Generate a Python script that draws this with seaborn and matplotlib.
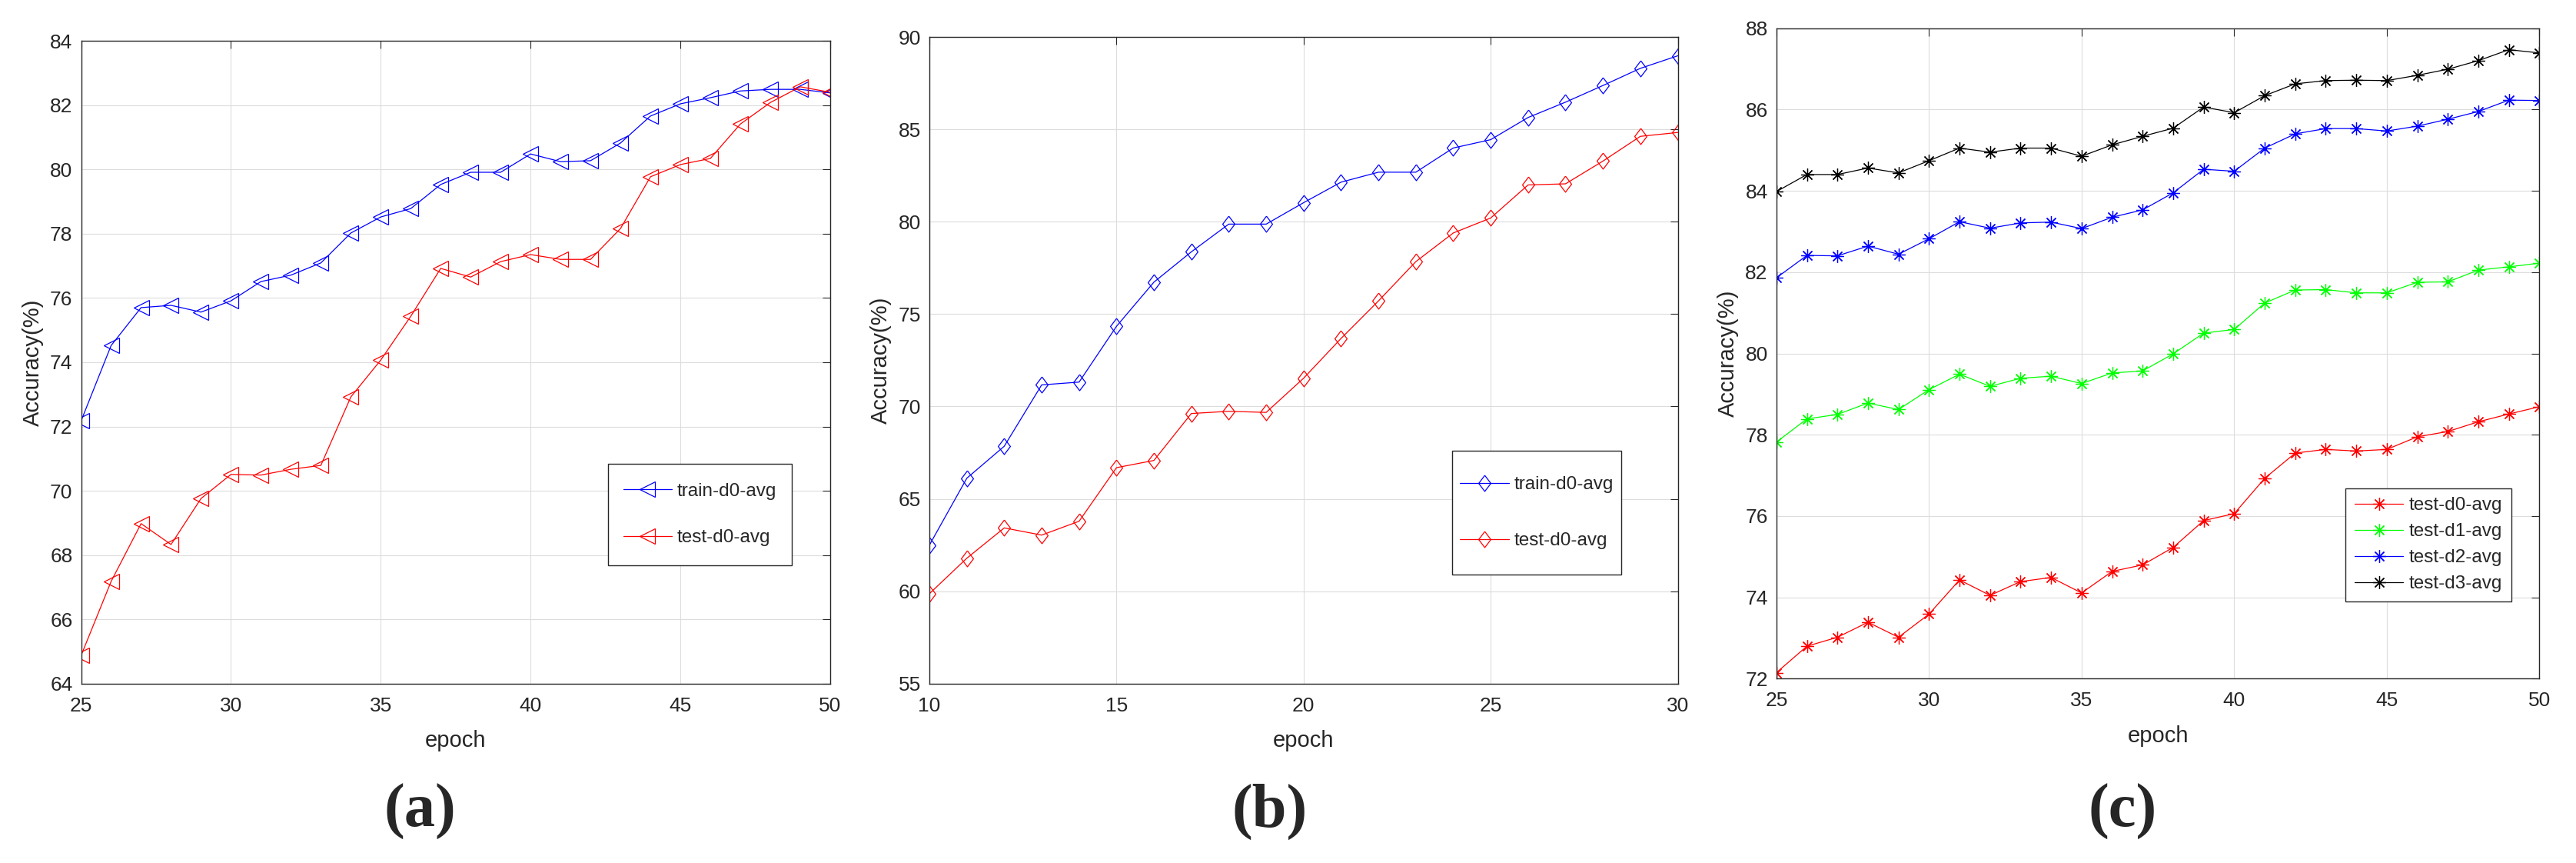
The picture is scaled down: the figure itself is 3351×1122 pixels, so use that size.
import matplotlib
matplotlib.use('Agg')
import matplotlib.pyplot as plt
from matplotlib.path import Path
import seaborn as sns

# ---- panel (a): epochs 25-50
epoch_a = list(range(25, 51))
train_a = [72.18, 74.52, 75.70, 75.77, 75.56, 75.91, 76.51, 76.71, 77.09, 78.02,
           78.52, 78.78, 79.53, 79.91, 79.91, 80.48, 80.24, 80.27, 80.82, 81.66,
           82.04, 82.23, 82.44, 82.49, 82.49, 82.38]
test_a = [64.88, 67.18, 68.98, 68.33, 69.76, 70.51, 70.49, 70.67, 70.79, 72.92,
          74.07, 75.43, 76.92, 76.65, 77.13, 77.35, 77.20, 77.20, 78.16, 79.77,
          80.15, 80.34, 81.41, 82.08, 82.57, 82.40]

# ---- panel (b): epochs 10-30
epoch_b = list(range(10, 31))
train_b = [62.50, 66.12, 67.85, 71.17, 71.32, 74.34, 76.73, 78.37, 79.87, 79.87,
           81.03, 82.14, 82.68, 82.68, 83.99, 84.44, 85.64, 86.47, 87.37, 88.30, 88.98]
test_b = [59.87, 61.79, 63.43, 63.04, 63.79, 66.69, 67.08, 69.62, 69.74, 69.68,
          71.53, 73.68, 75.71, 77.84, 79.39, 80.20, 81.99, 82.05, 83.28, 84.62, 84.83]

# ---- panel (c): epochs 25-50, four test curves
epoch_c = list(range(25, 51))
test_d0_c = [72.15, 72.80, 73.02, 73.39, 73.02, 73.59, 74.43, 74.05, 74.39, 74.49,
             74.11, 74.64, 74.80, 75.23, 75.89, 76.06, 76.93, 77.55, 77.64, 77.60,
             77.64, 77.95, 78.08, 78.32, 78.51, 78.69]
test_d1_c = [77.82, 78.39, 78.50, 78.78, 78.62, 79.11, 79.49, 79.19, 79.39, 79.44,
             79.26, 79.52, 79.57, 79.99, 80.50, 80.59, 81.24, 81.56, 81.57, 81.49,
             81.49, 81.75, 81.76, 82.05, 82.13, 82.22]
test_d2_c = [81.86, 82.41, 82.40, 82.64, 82.44, 82.82, 83.24, 83.08, 83.21, 83.23,
             83.07, 83.35, 83.53, 83.95, 84.53, 84.48, 85.05, 85.40, 85.53, 85.53,
             85.47, 85.59, 85.76, 85.95, 86.23, 86.22]
test_d3_c = [83.98, 84.40, 84.40, 84.56, 84.44, 84.74, 85.05, 84.95, 85.05, 85.05,
             84.85, 85.13, 85.34, 85.54, 86.06, 85.92, 86.34, 86.63, 86.71, 86.72,
             86.71, 86.84, 86.99, 87.20, 87.47, 87.39]

sns.set_style('white')
plt.rcParams['font.family'] = ['Liberation Sans', 'DejaVu Sans']

TXT = '#262626'
DIAMANTE = [(0, 1), (0.76, 0), (0, -1), (-0.76, 0), (0, 1)]  # losango mais alto que largo
ESTRELA = (8, 2, 0)  # asterisco de 8 bracos


def desenha(ax, x, y, cor, marcador, tam, rotulo):
    sns.lineplot(x=x, y=y, ax=ax, color=cor, linewidth=0.9, sort=False, errorbar=None,
                 marker=marcador, markersize=tam, markerfacecolor='none',
                 markeredgecolor=cor, markeredgewidth=0.9, label=rotulo)


def formata(ax, xlim, ylim, xticks, yticks):
    ax.set_xlim(*xlim)
    ax.set_ylim(*ylim)
    ax.set_xticks(xticks)
    ax.set_yticks(yticks)
    ax.grid(True, color='#dcdcdc', linewidth=0.8)
    ax.tick_params(direction='in', length=7, width=0.8, top=True, right=True,
                   labelsize=19, colors=TXT, labelcolor=TXT)
    ax.tick_params(axis='x', pad=12)
    ax.tick_params(axis='y', pad=8)
    for s in ax.spines.values():
        s.set_color(TXT)
        s.set_linewidth(1.0)
    ax.set_xlabel('epoch', fontsize=21, color=TXT, labelpad=14)
    ax.set_ylabel('Accuracy(%)', fontsize=21, color=TXT, labelpad=6)


def caixa_alta(extra):
    # moldura da legenda com folga vertical maior que a horizontal
    def estilo(x0, y0, w, h, mutation_size):
        d = extra * mutation_size
        y0, y1 = y0 - d, y0 + h + d
        return Path([(x0, y0), (x0 + w, y0), (x0 + w, y1), (x0, y1), (x0, y0)], closed=True)
    return estilo


def legenda(ax, ancora, espaco, borda, extra=0.0):
    leg = ax.legend(loc='upper right', bbox_to_anchor=ancora, borderaxespad=0,
                    fontsize=17.5, labelspacing=espaco, borderpad=borda,
                    handlelength=2.6, handletextpad=0.3, fancybox=False,
                    framealpha=1, edgecolor=TXT)
    leg.get_frame().set_linewidth(1.0)
    if extra:
        leg.get_frame().set_boxstyle(caixa_alta(extra))


fig = plt.figure(figsize=(33.51, 11.22), dpi=100)

# (a)
ax_a = fig.add_axes([0.0315, 0.2078, 0.2908, 0.7449])
desenha(ax_a, epoch_a, train_a, '#0000ff', '<', 14, 'train-d0-avg')
desenha(ax_a, epoch_a, test_a, '#ff0000', '<', 14, 'test-d0-avg')
formata(ax_a, (25, 50), (64, 84), range(25, 51, 5), range(64, 85, 2))
legenda(ax_a, (0.949, 0.3361), 1.58, 0.82, extra=0.2)

# (b)
ax_b = fig.add_axes([0.3608, 0.2078, 0.2905, 0.7494])
desenha(ax_b, epoch_b, train_b, '#0000ff', DIAMANTE, 15, 'train-d0-avg')
desenha(ax_b, epoch_b, test_b, '#ff0000', DIAMANTE, 15, 'test-d0-avg')
formata(ax_b, (10, 30), (55, 90), range(10, 31, 5), range(55, 91, 5))
legenda(ax_b, (0.925, 0.3328), 2.1, 0.42, extra=0.93)

# (c)
ax_c = fig.add_axes([0.6896, 0.2135, 0.2962, 0.7539])
desenha(ax_c, epoch_c, test_d0_c, '#ff0000', ESTRELA, 12, 'test-d0-avg')
desenha(ax_c, epoch_c, test_d1_c, '#00ff00', ESTRELA, 12, 'test-d1-avg')
desenha(ax_c, epoch_c, test_d2_c, '#0000ff', ESTRELA, 12, 'test-d2-avg')
desenha(ax_c, epoch_c, test_d3_c, '#000000', ESTRELA, 12, 'test-d3-avg')
formata(ax_c, (25, 50), (72, 88), range(25, 51, 5), range(72, 89, 2))
legenda(ax_c, (0.963, 0.293), 0.49, 0.48)

# legendas das sub-figuras
for xpos, letra in [(0.163, '(a)'), (0.493, '(b)'), (0.824, '(c)')]:
    fig.text(xpos, 0.0597, letra, ha='center', va='center', fontsize=58,
             fontweight='bold', family=['Liberation Serif', 'DejaVu Serif'])

fig.savefig('out.png', dpi=100)
plt.close()
